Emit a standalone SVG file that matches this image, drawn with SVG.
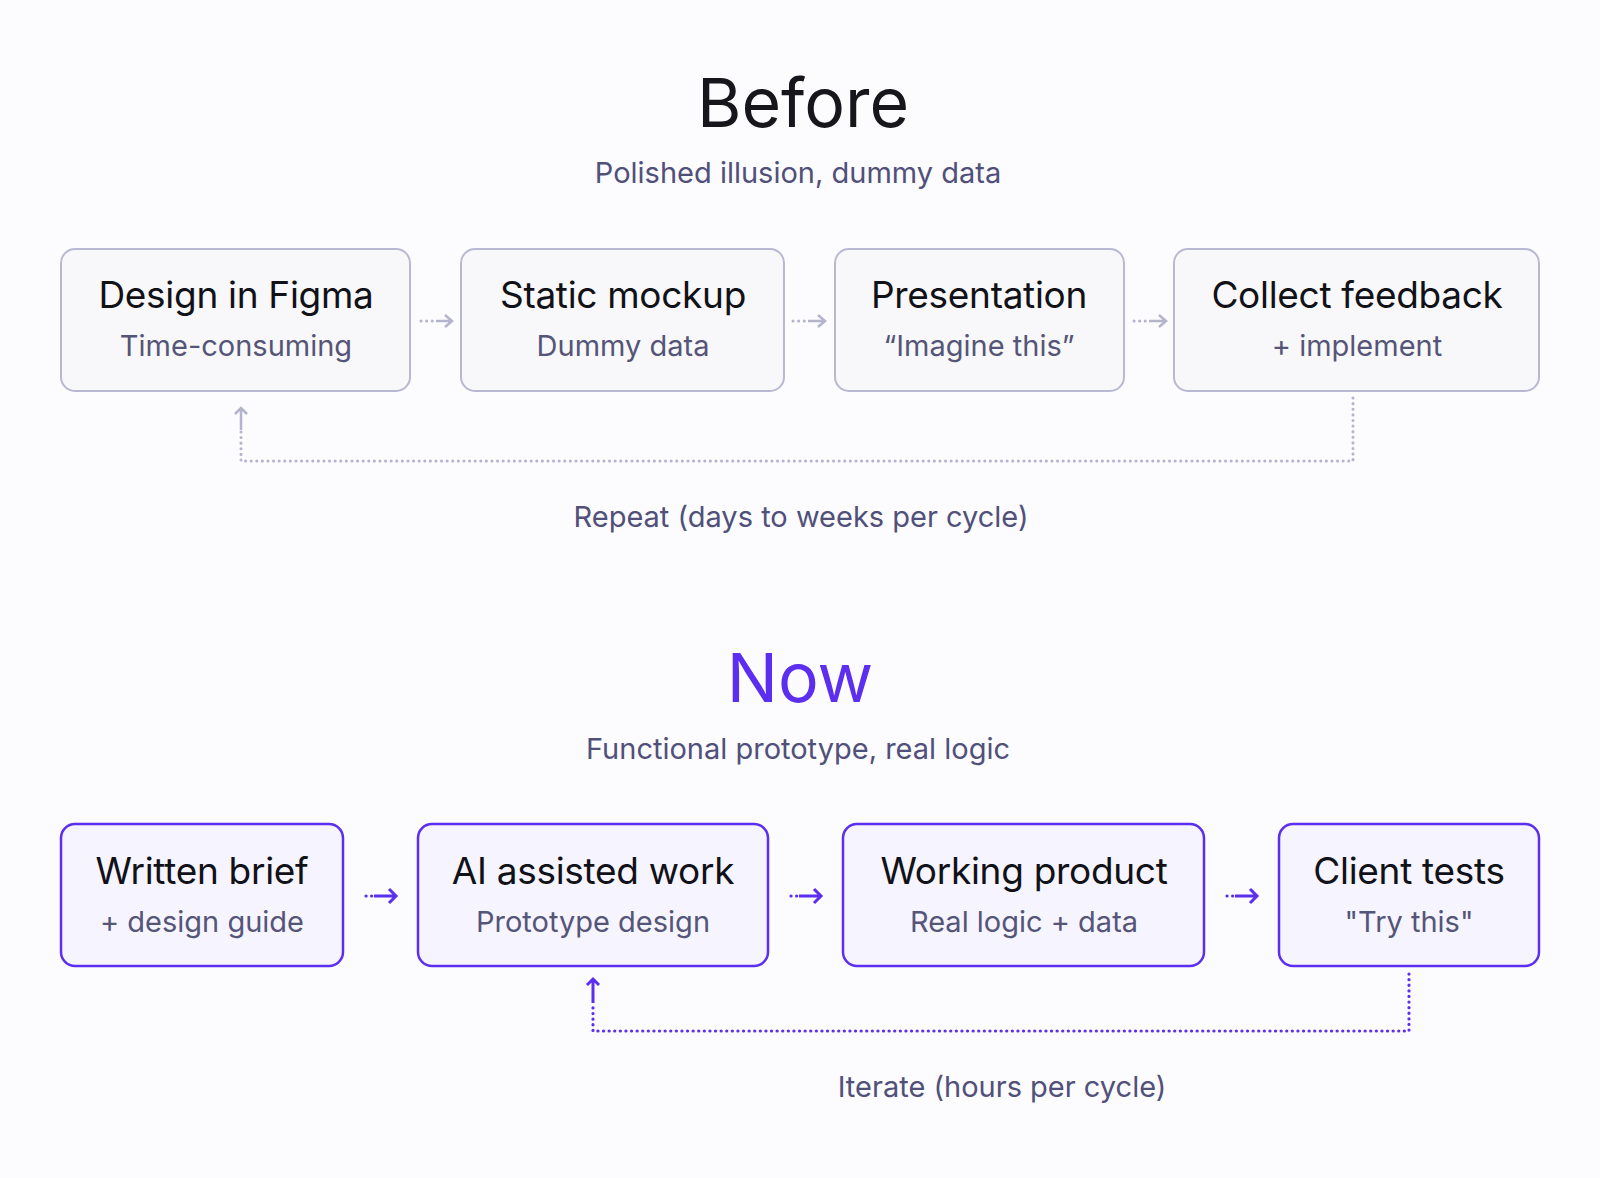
<svg xmlns="http://www.w3.org/2000/svg" width="1600" height="1178" viewBox="0 0 1600 1178">
<defs>
<style>
text{font-family:Inter,"Noto Sans",sans-serif;text-anchor:middle}
.h{font-size:68px;fill:#16161c}
.hn{font-size:68px;fill:#5b2ef0}
.s{font-size:29px;fill:#50507a}
.t{font-size:37px;fill:#111118;letter-spacing:-0.3px}
.st{font-size:29px;fill:#555578}
.bg{fill:#f8f8fa;stroke:#b8b8d2;stroke-width:2}
.bp{fill:#f6f4ff;stroke:#5b2ef0;stroke-width:2.5}
.cg{fill:none;stroke:#b4b4cc;stroke-width:3;stroke-linecap:round;stroke-dasharray:0.1 5.5}
.cp{fill:none;stroke:#5b2ef0;stroke-width:3.2;stroke-linecap:round;stroke-dasharray:0.1 5.5}
.ag{fill:none;stroke:#b4b4cc;stroke-width:2.5}
.ap{fill:none;stroke:#5b2ef0;stroke-width:3}
</style>
</defs>
<rect width="1600" height="1178" fill="#fcfbfe"/>
<text class="h" x="803" y="127">Before</text>
<text class="s" x="798" y="183">Polished illusion, dummy data</text>
<g id="n1"><rect class="bg" x="61" y="249" width="349" height="142" rx="14"/><text class="t" x="236" y="308">Design in Figma</text><text class="st" x="236" y="356">Time-consuming</text></g>
<g id="n2"><rect class="bg" x="461" y="249" width="323" height="142" rx="14"/><text class="t" x="623" y="308">Static mockup</text><text class="st" x="623" y="356">Dummy data</text></g>
<g id="n3"><rect class="bg" x="835" y="249" width="289" height="142" rx="14"/><text class="t" x="979" y="308">Presentation</text><text class="st" x="979" y="356">“Imagine this”</text></g>
<g id="n4"><rect class="bg" x="1174" y="249" width="365" height="142" rx="14"/><text class="t" x="1357" y="308">Collect feedback</text><text class="st" x="1357" y="356">+ implement</text></g>
<text class="s" x="801" y="527">Repeat (days to weeks per cycle)</text>
<text class="hn" x="800" y="702">Now</text>
<text class="s" x="798" y="759">Functional prototype, real logic</text>
<g id="m1"><rect class="bp" x="61" y="824" width="282" height="142" rx="14"/><text class="t" x="202" y="884">Written brief</text><text class="st" x="202" y="932">+ design guide</text></g>
<g id="m2"><rect class="bp" x="418" y="824" width="350" height="142" rx="14"/><text class="t" x="593" y="884">AI assisted work</text><text class="st" x="593" y="932">Prototype design</text></g>
<g id="m3"><rect class="bp" x="843" y="824" width="361" height="142" rx="14"/><text class="t" x="1024" y="884">Working product</text><text class="st" x="1024" y="932">Real logic + data</text></g>
<g id="m4"><rect class="bp" x="1279" y="824" width="260" height="142" rx="14"/><text class="t" x="1409" y="884">Client tests</text><text class="st" x="1409" y="932">"Try this"</text></g>
<text class="s" x="1002" y="1097">Iterate (hours per cycle)</text>
<g id="connectors">
<path class="cg" d="M421 321H436"/><path class="ag" d="M436 321H452M445 315L452 321L445 327"/>
<path class="cg" d="M793 321H808"/><path class="ag" d="M808 321H825M818 315L825 321L818 327"/>
<path class="cg" d="M1134 321H1149"/><path class="ag" d="M1149 321H1166M1159 315L1166 321L1159 327"/>
<path class="cg" d="M1353 398V461H241V430"/><path class="ag" d="M241 430V408M235 414L241 408L247 414"/>
<path class="cp" d="M366 896H372"/><path class="ap" d="M374 896H396M389 889L396 896L389 903"/>
<path class="cp" d="M791 896H797"/><path class="ap" d="M799 896H821M814 889L821 896L814 903"/>
<path class="cp" d="M1227 896H1233"/><path class="ap" d="M1235 896H1257M1250 889L1257 896L1250 903"/>
<path class="cp" d="M1409 974V1031H593V1003"/><path class="ap" d="M593 1003V979M587 985L593 979L599 985"/>
</g>
</svg>
